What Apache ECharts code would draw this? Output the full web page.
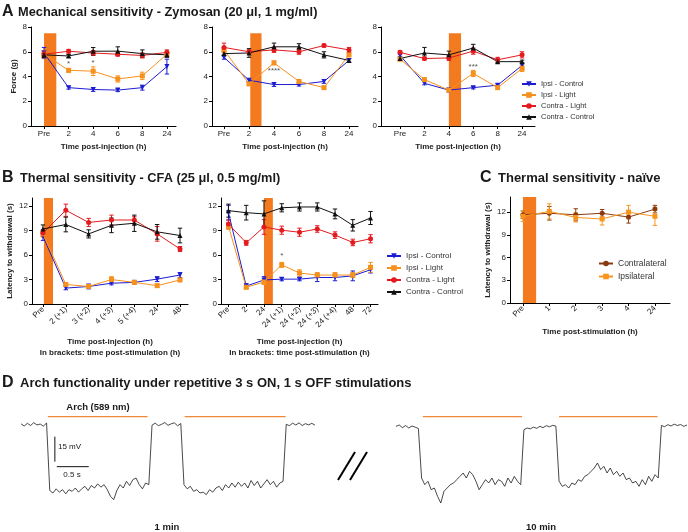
<!DOCTYPE html>
<html><head><meta charset="utf-8">
<script src="https://cdn.jsdelivr.net/npm/echarts@6/dist/echarts.min.js"></script>
<style>html,body{margin:0;padding:0;background:#fff}#c{width:688px;height:532px}</style>
</head><body><div id="c"></div>
<script>
// ---------------- DATA ----------------
const seriesNames = ['Ipsi - Control','Ipsi - Light','Contra - Light','Contra - Control'];
const catsA = ['Pre','2','4','6','8','24'];
const catsB1 = ['Pre','2 (+1)','3 (+2)','4 (+3)','5 (+4)','24','48'];
const catsB2 = ['Pre','2','24','24 (+1)','24 (+2)','24 (+3)','24 (+4)','48','72'];
const catsC = ['Pre','1','2','3','4','24'];
const yTicksA = [0,2,4,6,8];
const yTicksB = [0,3,6,9,12];

// Panel A1
const a1IpsiControl = [5.9,3.1,2.95,2.9,3.1,4.8];
const a1IpsiControlErr = [0.45,0.12,0.15,0.12,0.2,0.6];
const a1IpsiLight = [5.8,4.5,4.43,3.8,4.05,5.8];
const a1IpsiLightErr = [0.3,0.15,0.35,0.25,0.3,0.2];
const a1ContraLight = [5.8,6.04,5.9,5.8,5.7,5.95];
const a1ContraLightErr = [0.25,0.15,0.2,0.15,0.2,0.2];
const a1ContraControl = [5.75,5.66,6.04,6.05,5.85,5.75];
const a1ContraControlErr = [0.2,0.12,0.3,0.35,0.3,0.2];
const a1Stim = [0, 0.5, 7.5];
const a1StarX = [1, 2], a1StarY = [5.05, 5.1], a1StarText = ['*', '*'];

// Panel A2
const a2IpsiControl = [5.55,3.7,3.35,3.35,3.6,5.3];
const a2IpsiControlErr = [0.15,0.1,0.15,0.12,0.15,0.15];
const a2IpsiLight = [6.15,3.4,5.1,3.6,3.1,5.75];
const a2IpsiLightErr = [0.2,0.12,0.15,0.15,0.12,0.15];
const a2ContraLight = [6.35,6.0,6.15,6.0,6.5,6.15];
const a2ContraLightErr = [0.35,0.15,0.2,0.2,0.12,0.2];
const a2ContraControl = [5.85,5.9,6.4,6.4,5.75,5.3];
const a2ContraControlErr = [0.2,0.35,0.3,0.25,0.25,0.15];
const a2Stim = [1.05, 1.5, 7.5];
const a2StarX = [2], a2StarY = [4.45], a2StarText = ['****'];

// Panel A3
const a3IpsiControl = [5.7,3.45,2.9,3.1,3.3,4.9];
const a3IpsiControlErr = [0.12,0.12,0.15,0.1,0.12,0.2];
const a3IpsiLight = [5.4,3.75,2.9,4.25,3.1,4.65];
const a3IpsiLightErr = [0.12,0.12,0.12,0.25,0.12,0.25];
const a3ContraLight = [5.95,5.45,5.5,6.05,5.35,5.75];
const a3ContraLightErr = [0.12,0.12,0.2,0.25,0.2,0.25];
const a3ContraControl = [5.45,5.9,5.75,6.3,5.2,5.2];
const a3ContraControlErr = [0.12,0.45,0.3,0.3,0.12,0.12];
const a3Stim = [2, 2.5, 7.5];
const a3StarX = [3], a3StarY = [4.8], a3StarText = ['***'];

// Panel B1
const b1IpsiControl = [8.3,1.95,2.15,2.55,2.65,3.05,3.55];
const b1IpsiControlErr = [0.5,0.2,0.3,0.2,0.25,0.3,0.3];
const b1IpsiLight = [8.6,2.4,2.15,3.0,2.65,2.25,2.95];
const b1IpsiLightErr = [0.4,0.2,0.2,0.35,0.2,0.2,0.2];
const b1ContraLight = [8.7,11.5,10.0,10.3,10.3,8.6,6.75];
const b1ContraLightErr = [0.4,0.75,0.5,0.6,0.4,0.9,0.3];
const b1ContraControl = [9.2,9.75,8.6,9.65,9.9,8.85,8.4];
const b1ContraControlErr = [0.5,0.9,0.5,0.9,1.0,0.9,0.9];
const b1Stim = [0.04, 0.44, 13];
const b1StarX = [], b1StarY = [], b1StarText = [];

// Panel B2
const b2IpsiControl = [11.2,2.2,2.95,3.05,3.05,3.25,3.25,3.45,4.2];
const b2IpsiControlErr = [0.9,0.3,0.4,0.2,0.2,0.5,0.4,0.6,0.4];
const b2IpsiLight = [9.55,2.05,2.7,4.8,3.8,3.55,3.55,3.55,4.5];
const b2IpsiLightErr = [0.4,0.2,0.3,0.3,0.4,0.3,0.3,0.3,0.6];
const b2ContraLight = [9.8,7.5,9.45,9.05,8.8,9.2,8.45,7.55,8.0];
const b2ContraLightErr = [0.5,0.3,0.9,0.5,0.5,0.4,0.4,0.4,0.5];
const b2ContraControl = [11.45,11.2,11.05,11.8,11.9,11.9,11.05,9.65,10.55];
const b2ContraControlErr = [0.8,0.9,1.6,0.5,0.5,0.5,0.6,0.7,0.8];
const b2Stim = [2, 2.5, 13];
const b2StarX = [3], b2StarY = [5.9], b2StarText = ['*'];

// Panel C
const cContralateral = [11.65,11.85,11.65,11.85,11.35,12.4];
const cContralateralErr = [0.5,0.9,0.8,0.5,0.8,0.5];
const cIpsilateral = [11.45,12.1,11.3,11.1,12.0,11.45];
const cIpsilateralErr = [0.7,1.0,0.6,0.8,0.9,1.2];
const cStim = [0, 0.5, 14];

// Panel D  (membrane potential, mV, sampled every 0.05 s)
const sampleInterval = 0.05;
const trace1 = [
 -49.5,-50.8,-49.2,-50.5,-48.8,-50.2,-49.6,-50.9,-49.0,
 -89.5,-91,-88.5,-90.5,-89,-91.5,-89,-90,-88,-90.5,-88.5,-87,-89.5,-86.5,-88,-85.5,-87.5,-86,-89,-93,-95,-89.5,-86,-88,-84,-86.5,-83,-82,-86,-88.5,-85,-86,
 -50.3,-49.1,-50.6,-49.8,-48.7,-50.4,-49.5,-48.9,-50.7,-49.3,
 -86,-88.5,-87,-90,-89,-91,-90.5,-92,-89,-90.5,-88,-87,-89.5,-86,-88,-85,-87.5,-84.5,-87,-85,-88,-83.5,-86.5,-84,-88,-85.5,-83,-86,-84,-87.5,-85,-84,
 -49.8,-50.6,-49.1,-50.2,-48.9,-50.5,-49.4,-50.1,-49.2,-50.3];
const trace2 = [
 -51,-50.2,-51.8,-50.5,-52,-50.8,-51.5,-52.3,
 -82,-86,-84,-89,-88,-93,-97,-90,-88,-86,-85,-83,-81,-79,-82,-78,-80,-84,-89,-86,-83,-85,-82,-86,-83,-84,-87,-82,-85,-81,-84,-86,
 -53,-52,-52.5,-51.5,-52.2,-51,-51.8,-50.6,-51.3,-50.4,-50.9,
 -84,-87,-86,-88,-85,-86,-83,-84,-81,-80,-78,-76,-73,-77,-75,-79,-76,-80,-78,-81,-79,-83,-82,-85,-84,-87,-83,-86,-81,-84,-80,-82,
 -50.5,-51.2,-50,-50.8,-49.7,-50.5,-49.9,-51,-50.2];
const stim1 = [[0.42,1.98],[2.56,4.14]];
const stim2 = [[0.42,1.97],[2.55,4.09]];
const stimLevel = -45.2;
const scaleBarV = [[0.53,-57.2],[0.53,-72.2]]; // 15 mV
const scaleBarH = [[0.56,-75.2],[1.06,-75.2]]; // 0.5 s

// ---------------- STYLE / LAYOUT ----------------
const FONT = '"Liberation Sans", Arial, sans-serif';
const C = {ipsiCtl:'#1c1cd2', ipsiLight:'#f7911e', contraLight:'#e31b1f', contraCtl:'#111111',
  stim:'#f47a20', contra:'#8a3a10', ipsi:'#f7951f', trace:'#1a1a1a', stimLine:'#f0883a'};
const STY = [
  {color:C.ipsiCtl, symbol:'triangle', rot:180},
  {color:C.ipsiLight, symbol:'rect', rot:0},
  {color:C.contraLight, symbol:'circle', rot:0},
  {color:C.contraCtl, symbol:'triangle', rot:0}
];

const grids = [
  {left:31, top:27, width:145, height:99},   // A1
  {left:212, top:27, width:146, height:99},  // A2
  {left:381, top:27, width:154, height:99},  // A3
  {left:32, top:198, width:156, height:106}, // B1
  {left:221, top:198, width:157, height:106},// B2
  {left:510, top:197, width:160, height:106},// C
  {left:21, top:408, width:294, height:100}, // D1
  {left:396, top:408, width:291, height:100} // D2
];

const xAxes = [], yAxes = [], series = [];
const lblStyle = {fontSize:8, color:'#222', fontFamily:FONT};
const nameStyle = {fontSize:8, fontWeight:'bold', color:'#222', fontFamily:FONT, lineHeight:10.5};

function xCat(gi, cats, min, max, rotate, name, nameGap){
  const idx = cats.map((c,i)=>i);
  xAxes.push({type:'value', gridIndex:gi, min, max, splitLine:{show:false},
    axisLine:{onZero:false, lineStyle:{color:'#000', width:1}},
    axisTick:{show:true, customValues:idx, length:3, lineStyle:{color:'#000'}},
    axisLabel:Object.assign({customValues:idx, formatter:v=>cats[Math.round(v)], rotate, margin:4}, lblStyle),
    name, nameLocation:'middle', nameGap, nameTextStyle:nameStyle});
}
function yVal(gi, max, ticks, name, nameGap){
  yAxes.push({type:'value', gridIndex:gi, min:0, max, splitLine:{show:false},
    axisLine:{show:true, onZero:false, lineStyle:{color:'#000', width:1}},
    axisTick:{show:true, customValues:ticks, length:3, lineStyle:{color:'#000'}},
    axisLabel:Object.assign({customValues:ticks, margin:4}, lblStyle),
    name, nameLocation:'middle', nameGap, nameRotate:90, nameTextStyle:nameStyle});
}
function stimBar(gi, s){
  series.push({type:'custom', xAxisIndex:gi, yAxisIndex:gi, z:1, silent:true, data:[s],
    renderItem:(p,api)=>{const a=api.coord([api.value(0),0]); const b=api.coord([api.value(1),api.value(2)]);
      return {type:'rect', shape:{x:a[0], y:b[1], width:b[0]-a[0], height:a[1]-b[1]}, style:{fill:C.stim}};}});
}
function errBars(gi, vals, errs, color){
  series.push({type:'custom', xAxisIndex:gi, yAxisIndex:gi, z:3, silent:true,
    data: vals.map((v,i)=>[i, v-errs[i], v+errs[i]]),
    renderItem:(p,api)=>{const x=api.value(0); const lo=api.coord([x,api.value(1)]); const hi=api.coord([x,api.value(2)]); const w=2.2;
      const st={stroke:color, lineWidth:1};
      return {type:'group', children:[
        {type:'line', shape:{x1:lo[0],y1:lo[1],x2:hi[0],y2:hi[1]}, style:st},
        {type:'line', shape:{x1:lo[0]-w,y1:lo[1],x2:lo[0]+w,y2:lo[1]}, style:st},
        {type:'line', shape:{x1:hi[0]-w,y1:hi[1],x2:hi[0]+w,y2:hi[1]}, style:st}]};}});
}
function lineSer(gi, name, vals, sty){
  series.push({type:'line', name, xAxisIndex:gi, yAxisIndex:gi, z:4, data:vals.map((v,i)=>[i,v]),
    symbol:sty.symbol, symbolRotate:sty.rot, symbolSize:5, showAllSymbol:true,
    lineStyle:{color:sty.color, width:1}, itemStyle:{color:sty.color}, animation:false});
}
function stars(gi, xs, ys, texts){
  if (!xs.length) return;
  series.push({type:'custom', xAxisIndex:gi, yAxisIndex:gi, z:5, silent:true, data:xs.map((x,i)=>[x,ys[i]]),
    renderItem:(p,api)=>{const c=api.coord([api.value(0),api.value(1)]);
      return {type:'text', x:c[0], y:c[1], style:{text:texts[p.dataIndex], fill:'#555', font:'8px '+FONT, align:'center', verticalAlign:'middle'}};}});
}
function panel(gi, cats, sets, stim, sx, sy, st){
  stimBar(gi, stim);
  sets.forEach((s,k)=>{ errBars(gi, s[1], s[2], STY[k].color); lineSer(gi, s[0], s[1], STY[k]); });
  stars(gi, sx, sy, st);
}

// A
xCat(0, catsA, -0.53, 5.37, 0, 'Time post-injection (h)', 16); yVal(0, 8, yTicksA, 'Force (g)', 11);
xCat(1, catsA, -0.48, 5.36, 0, 'Time post-injection (h)', 16); yVal(1, 8, yTicksA, '', 11);
xCat(2, catsA, -0.78, 5.53, 0, 'Time post-injection (h)', 16); yVal(2, 8, yTicksA, '', 11);
panel(0, catsA, [[seriesNames[0],a1IpsiControl,a1IpsiControlErr],[seriesNames[1],a1IpsiLight,a1IpsiLightErr],[seriesNames[2],a1ContraLight,a1ContraLightErr],[seriesNames[3],a1ContraControl,a1ContraControlErr]], a1Stim, a1StarX, a1StarY, a1StarText);
panel(1, catsA, [[seriesNames[0],a2IpsiControl,a2IpsiControlErr],[seriesNames[1],a2IpsiLight,a2IpsiLightErr],[seriesNames[2],a2ContraLight,a2ContraLightErr],[seriesNames[3],a2ContraControl,a2ContraControlErr]], a2Stim, a2StarX, a2StarY, a2StarText);
panel(2, catsA, [[seriesNames[0],a3IpsiControl,a3IpsiControlErr],[seriesNames[1],a3IpsiLight,a3IpsiLightErr],[seriesNames[2],a3ContraLight,a3ContraLightErr],[seriesNames[3],a3ContraControl,a3ContraControlErr]], a3Stim, a3StarX, a3StarY, a3StarText);
// B
const bName = 'Time post-injection (h)\nIn brackets: time post-stimulation (h)';
xCat(3, catsB1, -0.48, 6.35, 45, bName, 33); yVal(3, 13, yTicksB, 'Latency to withdrawal (s)', 12);
xCat(4, catsB2, -0.42, 8.42, 45, bName, 33); yVal(4, 13, yTicksB, '', 12);
panel(3, catsB1, [[seriesNames[0],b1IpsiControl,b1IpsiControlErr],[seriesNames[1],b1IpsiLight,b1IpsiLightErr],[seriesNames[2],b1ContraLight,b1ContraLightErr],[seriesNames[3],b1ContraControl,b1ContraControlErr]], b1Stim, b1StarX, b1StarY, b1StarText);
panel(4, catsB2, [[seriesNames[0],b2IpsiControl,b2IpsiControlErr],[seriesNames[1],b2IpsiLight,b2IpsiLightErr],[seriesNames[2],b2ContraLight,b2ContraLightErr],[seriesNames[3],b2ContraControl,b2ContraControlErr]], b2Stim, b2StarX, b2StarY, b2StarText);
// C
xCat(5, catsC, -0.49, 5.57, 45, 'Time post-stimulation (h)', 24); yVal(5, 14, yTicksB, 'Latency to withdrawal (s)', 13);
stimBar(5, cStim);
errBars(5, cContralateral, cContralateralErr, C.contra);
lineSer(5, 'Contralateral', cContralateral, {color:C.contra, symbol:'circle', rot:0});
errBars(5, cIpsilateral, cIpsilateralErr, C.ipsi);
lineSer(5, 'Ipsilateral', cIpsilateral, {color:C.ipsi, symbol:'rect', rot:0});
// D
[[6,4.6,trace1,stim1],[7,4.55,trace2,stim2]].forEach(([gi,tmax,tr,st])=>{
  xAxes.push({type:'value', gridIndex:gi, min:0, max:tmax, show:false});
  yAxes.push({type:'value', gridIndex:gi, min:-100, max:-40, show:false});
  series.push({type:'line', xAxisIndex:gi, yAxisIndex:gi, data:tr.map((v,i)=>[i*sampleInterval, v]), showSymbol:false, silent:true,
    lineStyle:{color:C.trace, width:0.8}, animation:false});
  st.forEach(([a,b])=>series.push({type:'line', xAxisIndex:gi, yAxisIndex:gi, data:[[a,stimLevel],[b,stimLevel]], showSymbol:false, silent:true,
    lineStyle:{color:C.stimLine, width:1.2}, animation:false}));
});
series.push({type:'line', xAxisIndex:6, yAxisIndex:6, data:scaleBarV, showSymbol:false, silent:true, lineStyle:{color:'#111', width:1}, animation:false});
series.push({type:'line', xAxisIndex:6, yAxisIndex:6, data:scaleBarH, showSymbol:false, silent:true, lineStyle:{color:'#111', width:1}, animation:false});

function txt(x, y, text, size, weight, align){
  return {type:'text', x, y, style:{text, font:(weight||'normal')+' '+size+'px '+FONT, fill:'#1a1a1a', align:align||'left', verticalAlign:'middle'}};
}
const option = {
  backgroundColor:'#fff', animation:false,
  grid: grids.map(g=>Object.assign({containLabel:false}, g)),
  xAxis: xAxes, yAxis: yAxes, series,
  legend: [
    {data:seriesNames, orient:'vertical', left:516, top:75, padding:5, itemWidth:14, itemHeight:7, itemGap:3, selectedMode:false, textStyle:{fontSize:7.5, color:'#333', fontFamily:FONT}},
    {data:seriesNames, orient:'vertical', left:381, top:247, padding:5, itemWidth:14, itemHeight:7, itemGap:4, selectedMode:false, textStyle:{fontSize:8, color:'#333', fontFamily:FONT}},
    {data:['Contralateral','Ipsilateral'], orient:'vertical', left:593, top:254, padding:5, itemWidth:14, itemHeight:7, itemGap:4, selectedMode:false, textStyle:{fontSize:8.5, color:'#333', fontFamily:FONT}}
  ],
  graphic: [
    txt(2, 12, 'A', 16, 'bold'), txt(18, 12, 'Mechanical sensitivity - Zymosan (20 μl, 1 mg/ml)', 12.8, 'bold'),
    txt(2, 178, 'B', 16, 'bold'), txt(20, 178, 'Thermal sensitivity - CFA (25 μl, 0.5 mg/ml)', 12.8, 'bold'),
    txt(480, 178, 'C', 16, 'bold'), txt(498, 178, 'Thermal sensitivity - naïve', 13, 'bold'),
    txt(2, 383, 'D', 16, 'bold'), txt(20, 383, 'Arch functionality under repetitive 3 s ON, 1 s OFF stimulations', 13, 'bold'),
    txt(98, 407, 'Arch (589 nm)', 9.5, 'bold', 'center'),
    txt(58, 447, '15 mV', 8, 'normal'), txt(72, 475, '0.5 s', 8, 'normal', 'center'),
    txt(167, 527, '1 min', 9.5, 'bold', 'center'), txt(541, 527, '10 min', 9.5, 'bold', 'center'),
    {type:'line', shape:{x1:338,y1:480,x2:355,y2:452}, style:{stroke:'#000', lineWidth:2}},
    {type:'line', shape:{x1:350,y1:480,x2:367,y2:452}, style:{stroke:'#000', lineWidth:2}}
  ]
};
const chart = echarts.init(document.getElementById('c'), null, {renderer:'canvas'});
chart.setOption(option);
</script></body></html>
